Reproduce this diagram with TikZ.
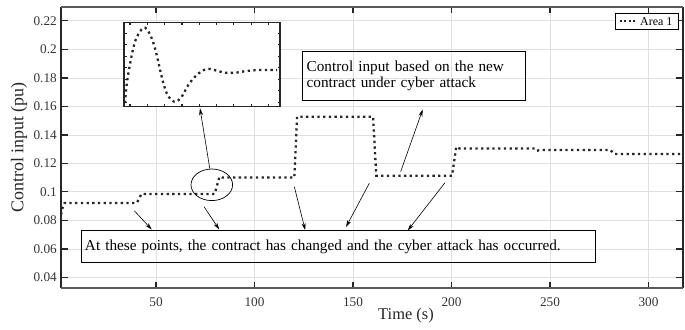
\documentclass[tikz,border=0pt]{standalone}
\usepackage{fontspec}
\setmainfont{Liberation Serif}
\usetikzlibrary{arrows.meta,positioning,shapes.geometric}

\begin{document}
\begin{tikzpicture}[x=1bp, y=-1bp,
  gridline/.style={draw=black!12, line width=0.6bp},
  sideaxis/.style={draw=black!85, line width=2bp},
  flataxis/.style={draw=black!65, line width=1.6bp},
  tickmark/.style={draw=black!85, line width=1.4bp},
  ticklabel/.style={font=\fontsize{13.3}{13.3}\selectfont, inner sep=0pt, text=black!80},
  areaone/.style={line width=2.3bp, dash pattern=on 2.3bp off 3.4bp, draw=black!85},
  notebox/.style={draw, line width=0.7bp, align=left, inner xsep=4bp, inner ysep=0pt,
    font=\fontsize{15.3}{17}\selectfont},
  pointer/.style={-{Stealth[length=7bp,width=4bp]}, line width=0.6bp}
]
\useasboundingbox (0,0) rectangle (685,329);

% axes in data units
\begin{scope}[shift={(57.5,334.3)}, x=1.97bp, y=1425bp]
  \foreach \v in {0.04,0.06,0.08,0.10,0.12,0.14,0.16,0.18,0.20,0.22}
    \draw[gridline] (1.78,\v) -- (317.5,\v);
  \foreach \t in {50,100,...,300}
    \draw[gridline] (\t,0.0325) -- (\t,0.2297);
  \draw[areaone] (1.8,0.084) -- (2.6,0.089) -- (3.6,0.0922) -- (40.3,0.0922)
    -- (42.6,0.0985) -- (79.8,0.0985) -- (82.2,0.1106) -- (83.5,0.1100)
    -- (120.2,0.1100) -- (121.6,0.1527) -- (160.2,0.1527) -- (161.8,0.1113)
    -- (200.3,0.1113) -- (202.4,0.1316) -- (204,0.1304) -- (242.2,0.1304)
    -- (243.2,0.1288) -- (245,0.1293) -- (280.6,0.1293) -- (282.8,0.1265)
    -- (317.4,0.1265);
  \foreach \v/\l in {0.04/0.04,0.06/0.06,0.08/0.08,0.10/0.1,0.12/0.12,
                     0.14/0.14,0.16/0.16,0.18/0.18,0.20/0.2,0.22/0.22} {
    \draw[tickmark] (1.78,\v) -- ++(7bp,0);
    \draw[tickmark] (317.5,\v) -- ++(-7bp,0);
    \node[ticklabel, anchor=east] at ([xshift=-4bp]1.78,\v) {\l};
  }
  \foreach \t in {50,100,...,300} {
    \draw[tickmark] (\t,0.0325) -- ++(0,6bp);
    \draw[tickmark] (\t,0.2297) -- ++(0,-6bp);
    \node[ticklabel, anchor=base] at ([yshift=-18.2bp]\t,0.0325) {\t};
  }
\end{scope}

\draw[sideaxis] (61,7) -- (61,288) (683,7) -- (683,288);
\draw[flataxis] (61,7) -- (683,7) (61,288) -- (683,288);

\node[rotate=90, font=\fontsize{18}{18}\selectfont, text=black!85] (ylab) at (19,147.5) {Control input (pu)};
\node[font=\fontsize{16.5}{16.5}\selectfont, text=black!85] (xlab) at (406,316) {Time (s)};

% zoomed view
\node[draw=black!85, line width=1.4bp, fill=white, minimum width=156bp, minimum height=84.4bp,
  inner sep=0pt] (inset) at (202,64.5) {};
\foreach \i in {0,...,8} {
  \draw[black!85, line width=1.2bp] (130+17.3*\i,22.3) -- ++(0,2.5);
  \draw[black!85, line width=1.2bp] (130+17.3*\i,106.7) -- ++(0,-2.5);
}
\foreach \i in {0,...,6} {
  \draw[black!85, line width=1.2bp] (124,33.3+11.5*\i) -- ++(2.5,0);
  \draw[black!85, line width=1.2bp] (280,33.3+11.5*\i) -- ++(-2.5,0);
}
\draw[areaone] plot[smooth, tension=0.6] coordinates {(125,103) (127.3,80) (133.3,48)
  (138.3,34.3) (145,27.7) (151.7,38.3) (156.7,55) (161.7,76.7) (166.7,93.3)
  (171.7,100) (176,101.7) (181.7,96.7) (188.3,85) (196.7,75) (206.7,69)
  (216.7,70.7) (225,72.7) (235,72.7) (246.7,71) (260,70) (277,70)};

\node[ellipse, draw, line width=0.7bp, minimum width=41.6bp, minimum height=31.6bp,
  inner sep=0pt] (ring) at (211.8,184.8) {};

\node[notebox, text width=215bp, minimum height=48.3bp] (newnote) at (414.2,75.85)
  {Control input based on the new\\contract under cyber attack};
\node[notebox, text width=506.7bp, minimum height=31.3bp] (pointsnote) at (338.35,246.35)
  {At these points, the contract has changed and the cyber attack has occurred.};

% arrow ends
\coordinate (insettip) at (200,108.3);
\coordinate (newtail) at (400.7,171.5);
\coordinate (newtip) at (422.7,109.5);
\coordinate (ta) at (134.3,210.7);
\coordinate (ha) at (151.7,229.5);
\coordinate (tb) at (204,206.7);
\coordinate (hb) at (219.3,229.5);
\coordinate (tc) at (294.3,186.7);
\coordinate (hc) at (305.2,230);
\coordinate (td) at (369.3,183.3);
\coordinate (hd) at (346,227);
\coordinate (te) at (445,182.7);
\coordinate (he) at (407.7,230.5);

\draw[pointer] ([xshift=-2bp]ring.north) -- (insettip);
\draw[pointer] (newtail) -- (newtip);
\draw[pointer] (ta) -- (ha);
\draw[pointer] (tb) -- (hb);
\draw[pointer] (tc) -- (hc);
\draw[pointer] (td) -- (hd);
\draw[pointer] (te) -- (he);

% legend
\node[draw, fill=white, line width=0.7bp, minimum width=63bp, minimum height=16bp,
  inner sep=0pt] (legend) at (646.5,21.3) {};
\coordinate (keyleft) at (619.5,21.3);
\coordinate (keyright) at (637.5,21.3);
\draw[line width=2bp, dash pattern=on 2bp off 2.6bp, draw=black!85] (keyleft) -- (keyright);
\node[font=\fontsize{12}{12}\selectfont, anchor=west, inner sep=0pt] (legtext) at (640,21.3) {Area 1};
\end{tikzpicture}
\end{document}
